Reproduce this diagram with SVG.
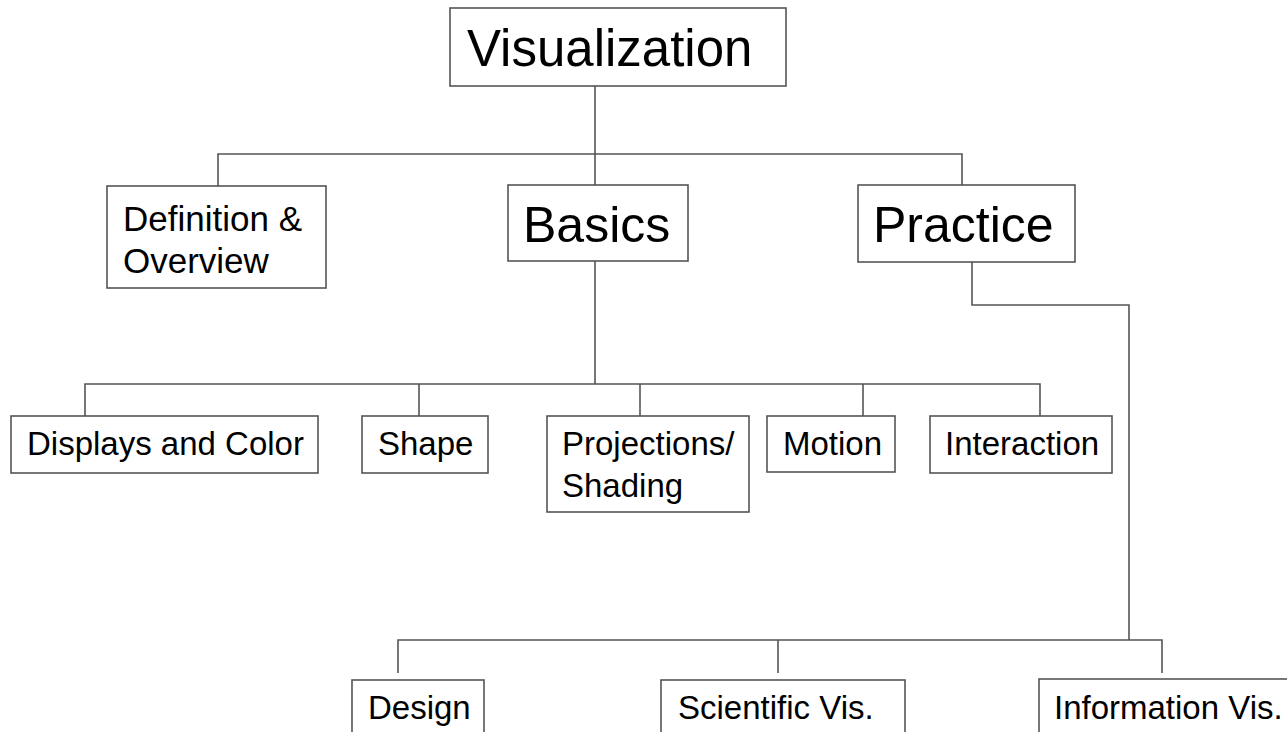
<svg xmlns="http://www.w3.org/2000/svg" width="1287" height="732" viewBox="0 0 1287 732">
<style>
.box{fill:#fff;stroke:#555;stroke-width:1.6}
.ln{fill:none;stroke:#555;stroke-width:1.6}
text{font-family:"Liberation Sans",Arial,sans-serif;fill:#000}
.big{font-size:50px}
.mid{font-size:35px}
.sm{font-size:33px}
</style>
<rect width="1287" height="732" fill="#fff"/>
<g id="connectors">
<path class="ln" d="M595,86 V185"/>
<path class="ln" d="M218,186 V154 H962 V185"/>
<path class="ln" d="M595,261 V384"/>
<path class="ln" d="M85,416 V384 H1040 V416"/>
<path class="ln" d="M419,384 V416"/>
<path class="ln" d="M640,384 V416"/>
<path class="ln" d="M863,384 V416"/>
<path class="ln" d="M972,262 V305 H1129 V640" stroke="#333"/>
<path class="ln" d="M398,673 V640 H1162 V673"/>
<path class="ln" d="M778,640 V673"/>
</g>
<g id="visualization"><rect class="box" x="450" y="8" width="336" height="78"/><text x="467" y="66" style="font-size:51px">Visualization</text></g>
<g id="definition"><rect class="box" x="107" y="186" width="219" height="102"/><text class="mid" x="123" y="231">Definition &amp;</text><text class="mid" x="123" y="273">Overview</text></g>
<g id="basics"><rect class="box" x="508" y="185" width="180" height="76"/><text class="big" x="523" y="242">Basics</text></g>
<g id="practice"><rect class="box" x="858" y="185" width="217" height="77"/><text class="big" x="873" y="242">Practice</text></g>
<g id="displays"><rect class="box" x="11" y="416" width="307" height="57"/><text class="sm" x="27" y="455">Displays and Color</text></g>
<g id="shape"><rect class="box" x="362" y="416" width="126" height="57"/><text class="sm" x="378" y="455">Shape</text></g>
<g id="projections"><rect class="box" x="547" y="416" width="202" height="96"/><text class="sm" x="562" y="455">Projections/</text><text class="sm" x="562" y="497">Shading</text></g>
<g id="motion"><rect class="box" x="767" y="416" width="128" height="56"/><text class="sm" x="783" y="455">Motion</text></g>
<g id="interaction"><rect class="box" x="930" y="416" width="182" height="57"/><text class="sm" x="945" y="455">Interaction</text></g>
<g id="design"><rect class="box" x="352" y="680" width="132" height="70"/><text class="sm" x="368" y="719">Design</text></g>
<g id="scientific"><rect class="box" x="661" y="680" width="244" height="70"/><text class="sm" x="678" y="719">Scientific Vis.</text></g>
<g id="information"><rect class="box" x="1039" y="679" width="270" height="70"/><text class="sm" x="1054" y="719">Information Vis.</text></g>
</svg>
